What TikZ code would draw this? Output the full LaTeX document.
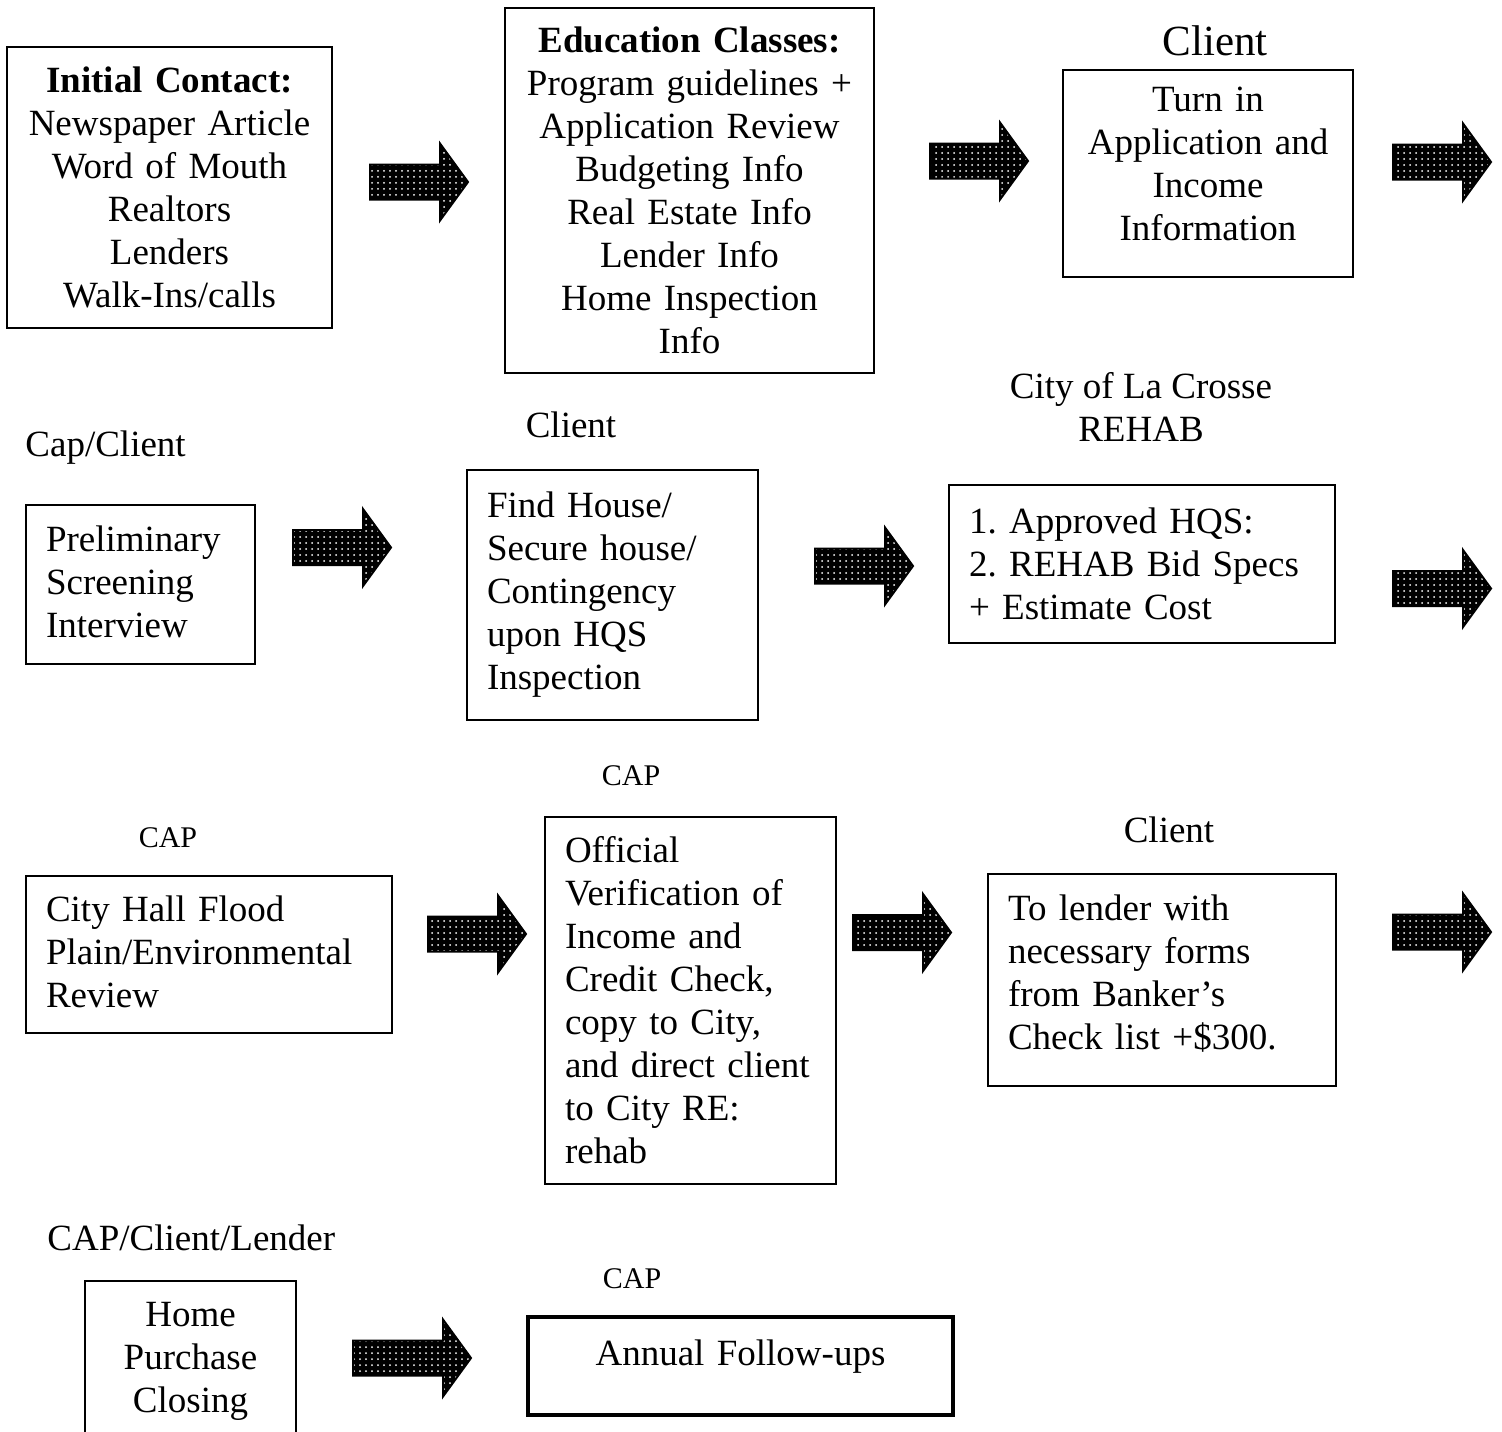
\documentclass[tikz,border=0pt]{standalone}
\usepackage{fontspec}
\setmainfont{Liberation Serif}
\usetikzlibrary{patterns}
\frenchspacing

\newcommand{\bodyfont}{\fontsize{18.5}{21.5}\selectfont}
\newcommand{\bigfont}{\fontsize{21.5}{25}\selectfont}
\newcommand{\smallfont}{\fontsize{15}{18}\selectfont}
% invisible depth that lifts the text in its box
\newcommand{\lift}[1]{\rule[-#1]{0pt}{#1}}
% invisible height that drops the text in its box
\newcommand{\drop}[1]{\rule{0pt}{#1}}

\tikzset{
    stepbox/.style={draw, line width=1pt, inner xsep=10pt, inner ysep=0pt, font=\bodyfont, align=left},
    midbox/.style={draw, line width=1pt, inner xsep=4pt, inner ysep=0pt, font=\bodyfont, align=center},
    who/.style={inner sep=0pt, font=\bodyfont, anchor=base},
    arrowfill/.style={draw=black, line width=1pt, preaction={fill=black}, pattern=dots, pattern color=white},
    pics/fatarrow/.style={code={
        \path[arrowfill] (0,-8.75) -- (#1-14,-8.75) -- (#1-14,-19.25) -- (#1,0)
            -- (#1-14,19.25) -- (#1-14,8.75) -- (0,8.75) -- cycle;
    }},
}

\begin{document}
\begin{tikzpicture}[x=1pt, y=-1pt]
    \useasboundingbox (0,0) rectangle (751,715.5);

    % row 1
    \node[midbox, text width=154.5pt, minimum width=162.5pt, minimum height=140.5pt] (contact) at (84.75,93.75)
        {\textbf{Initial Contact:}\\Newspaper Article\\Word of Mouth\\Realtors\\Lenders\\Walk-Ins/calls};
    \pic at (185,91) {fatarrow=49};
    \node[midbox, text width=176.5pt, minimum width=184.5pt, minimum height=182.5pt] (classes) at (344.75,95.25)
        {\textbf{Education Classes:}\\Program guidelines +\\Application Review\\Budgeting Info\\Real Estate Info\\Lender Info\\Home Inspection\\Info};
    \pic at (465,80.5) {fatarrow=49};
    \node[who, font=\bigfont] (client1) at (607.5,27.5) {Client};
    \node[midbox, text width=137pt, minimum width=145pt, minimum height=103.5pt] (apply) at (604,86.75)
        {Turn in\\Application and\\Income\\Information\lift{10pt}};
    \pic at (696.5,81) {fatarrow=49};

    % row 2
    \node[who, anchor=base west] (capclient) at (12.5,228) {Cap/Client};
    \node[stepbox, text width=94.5pt, minimum width=114.5pt, minimum height=79.5pt] (screen) at (70.25,292.25)
        {Preliminary\\Screening\\Interview\lift{3pt}};
    \pic at (146.5,273.75) {fatarrow=49};
    \node[who] (client2) at (285.5,218.5) {Client};
    \node[stepbox, text width=125.5pt, minimum width=145.5pt, minimum height=125pt] (house) at (306.25,297.5)
        {Find House/\\Secure house/\\Contingency\\upon HQS\\Inspection};
    \pic at (407.5,283) {fatarrow=49};
    \node[who, align=center] (city) at (570.5,220.5) {City of La Crosse\\REHAB};
    \node[stepbox, text width=173pt, minimum width=193pt, minimum height=79pt] (rehab) at (571,282)
        {1. Approved HQS:\\\mbox{2. REHAB Bid Specs}\\+ Estimate Cost};
    \pic at (696.5,294.25) {fatarrow=49};

    % row 3
    \node[who, font=\smallfont] (cap1) at (84,423.5) {CAP};
    \node[stepbox, text width=163pt, minimum width=183pt, minimum height=78.5pt] (flood) at (104.5,477.25)
        {City Hall Flood\\Plain/Environmental\\Review\lift{3pt}};
    \pic at (214,467) {fatarrow=49};
    \node[who, font=\smallfont] (cap2) at (315.5,392.5) {CAP};
    \node[stepbox, text width=125.5pt, minimum width=145.5pt, minimum height=183.5pt] (verify) at (345.25,500.25)
        {Official\\Verification of\\Income and\\Credit Check,\\copy to City,\\and direct client\\to City RE:\\rehab};
    \pic at (426.5,466.25) {fatarrow=49};
    \node[who] (client3) at (584.5,421) {Client};
    \node[stepbox, text width=154pt, minimum width=174pt, minimum height=106pt] (lender) at (581,490)
        {To lender with\\necessary forms\\from Banker's\\Check list +\$300.\lift{7.5pt}};
    \pic at (696.5,466) {fatarrow=49};

    % row 4
    \node[who, anchor=base west] (team) at (23.5,625) {CAP/Client/Lender};
    \node[midbox, text width=97.5pt, minimum width=105.5pt, minimum height=76pt] (closing) at (95.25,678.5)
        {\drop{16.5pt}Home\\Purchase\\Closing};
    \pic at (176.5,679) {fatarrow=59};
    \node[who, font=\smallfont] (cap3) at (316,644) {CAP};
    \node[midbox, line width=2pt, text width=204.5pt, minimum width=212.5pt, minimum height=49pt] (follow) at (370.25,683)
        {Annual Follow-ups\lift{13pt}};
\end{tikzpicture}
\end{document}
